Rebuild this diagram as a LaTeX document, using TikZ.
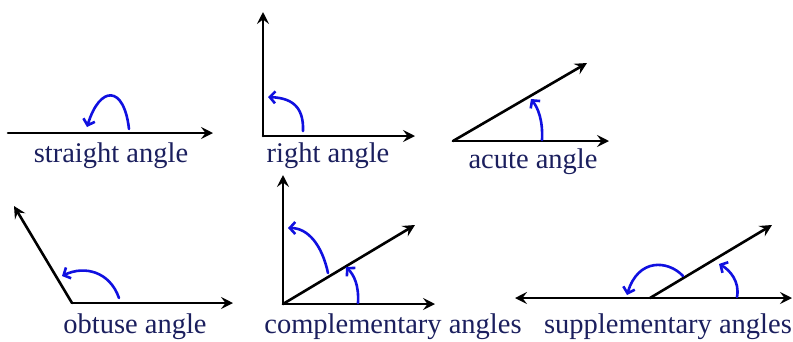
\documentclass[tikz,border=0pt]{standalone}
\usepackage{fontspec}
\setmainfont{Liberation Serif}
\usepackage{xcolor}
\usetikzlibrary{arrows.meta}
\definecolor{navy}{HTML}{1B1F5E}
\definecolor{turnblue}{HTML}{1010E0}

\begin{document}
\begin{tikzpicture}[
  x=1pt, y=-1pt,
  line cap=round,
  ray/.style={-{Stealth[length=12pt,width=12pt,inset=4.5pt]}, line width=2.6pt},
  turn/.style={-{Straight Barb[length=5.5pt,width=12pt]}, turnblue, line width=2.6pt},
  lbl/.style={anchor=base, text=navy, inner sep=0pt, font=\fontsize{28.5}{32}\selectfont}
]
  \useasboundingbox (0,0) rectangle (793,341);

  % straight angle
  \coordinate (s0) at (8,133);
  \coordinate (s1) at (213,133);
  \coordinate (sa) at (129,129);
  \coordinate (sb) at (87,127);
  \draw[ray] (s0) -- (s1);
  \draw[turn] (sa) .. controls (124,85) and (100,85) .. (sb);
  \node[lbl] (sl) at (111,162) {straight angle};

  % right angle
  \coordinate (r0) at (263,136);
  \coordinate (r1) at (415,136);
  \coordinate (r2) at (263,12);
  \coordinate (ra) at (303,131);
  \coordinate (rb) at (268,97);
  \draw[ray] (r0) -- (r1);
  \draw[ray] (r0) -- (r2);
  \draw[turn] (ra) .. controls (304,105) and (290,98) .. (rb);
  \node[lbl] (rl) at (328,162) {right angle};

  % acute angle
  \coordinate (a0) at (453,141);
  \coordinate (a1) at (609,141);
  \coordinate (a2) at (587,63);
  \coordinate (aa) at (542,140);
  \coordinate (ab) at (531,99);
  \draw[ray] (a0) -- (a1);
  \draw[ray] (a0) -- (a2);
  \draw[turn] (aa) .. controls (543,120) and (538,108) .. (ab);
  \node[lbl] (al) at (533,168) {acute angle};

  % obtuse angle
  \coordinate (o0) at (72,303);
  \coordinate (o1) at (233,303);
  \coordinate (o2) at (14,206);
  \coordinate (oa) at (119,298);
  \coordinate (ob) at (62,276);
  \draw[ray] (o0) -- (o1);
  \draw[ray] (o0) -- (o2);
  \draw[turn] (oa) .. controls (110,272) and (85,265) .. (ob);
  \node[lbl] (ol) at (135,333) {obtuse angle};

  % complementary angles
  \coordinate (c0) at (283,304);
  \coordinate (c1) at (435,304);
  \coordinate (c2) at (283,175);
  \coordinate (c3) at (415,225);
  \coordinate (ca) at (328,273);
  \coordinate (cb) at (288,228);
  \coordinate (cc) at (358,303);
  \coordinate (cd) at (346,267);
  \draw[ray] (c0) -- (c1);
  \draw[ray] (c0) -- (c2);
  \draw[ray] (c0) -- (c3);
  \draw[turn] (ca) .. controls (322,245) and (308,228) .. (cb);
  \draw[turn] (cc) .. controls (359,285) and (354,275) .. (cd);
  \node[lbl] (cl) at (393,333) {complementary angles};

  % supplementary angles
  \coordinate (p0) at (650,298);
  \coordinate (p1) at (792,298);
  \coordinate (p2) at (515,298);
  \coordinate (p3) at (772,225);
  \coordinate (pa) at (683,276);
  \coordinate (pb) at (627,295);
  \coordinate (pc) at (737,297);
  \coordinate (pd) at (719,264);
  \draw[ray] (p0) -- (p1);
  \draw[ray] (p0) -- (p2);
  \draw[ray] (p0) -- (p3);
  \draw[turn] (pa) .. controls (668,260) and (638,258) .. (pb);
  \draw[turn] (pc) .. controls (740,282) and (730,270) .. (pd);
  \node[lbl] (pl) at (668,333) {supplementary angles};
\end{tikzpicture}
\end{document}
